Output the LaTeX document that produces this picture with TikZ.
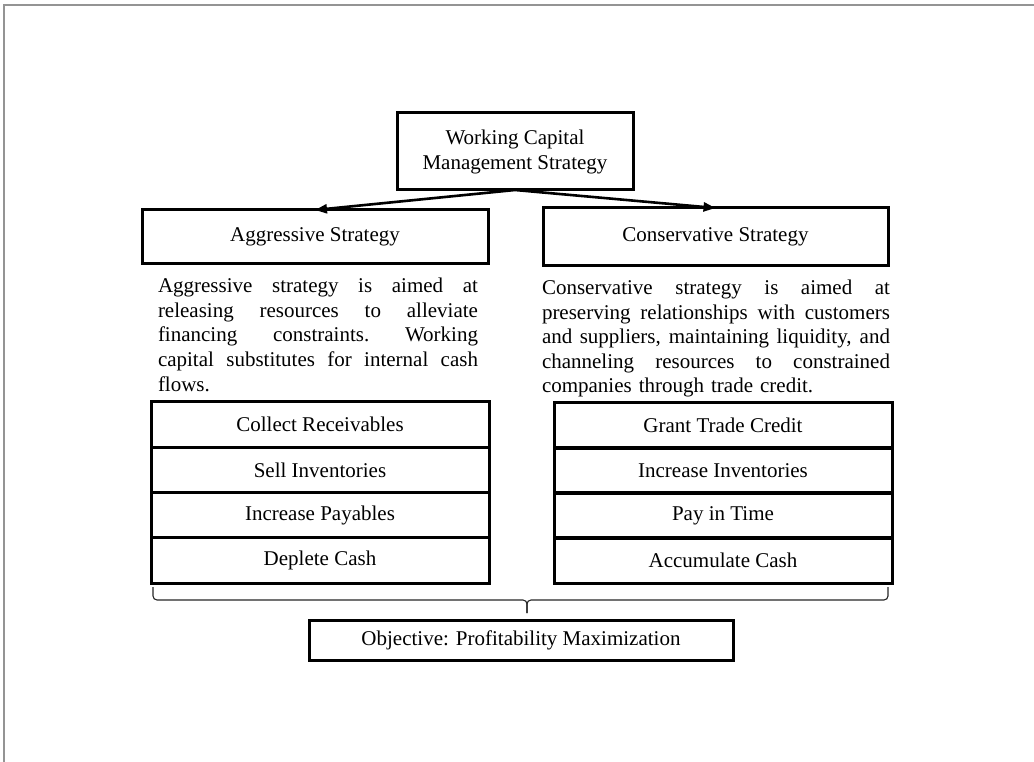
\documentclass[tikz,border=0pt]{standalone}
\usepackage{fontspec}
\setmainfont{Liberation Serif}
\usetikzlibrary{arrows.meta}
\newcommand{\jline}[2]{\leavevmode\hbox to #1{\spaceskip=0.25em plus 1fil\relax\xspaceskip=0.25em plus 1fil\relax #2}}
\begin{document}
\begin{tikzpicture}[x=1pt,y=-1pt,
  every node/.style={font=\fontsize{21}{24}\selectfont, inner sep=0pt, outer sep=0pt},
  box/.style={draw, line width=3pt, align=center},
  rowbox/.style={box, minimum width=338pt, minimum height=45.25pt},
  para/.style={align=left, anchor=north west},
  conn/.style={line width=2.6pt, -{Triangle[length=12pt,width=9pt]}},
  frame/.style={draw=black!42, line width=1.5pt}
]
\useasboundingbox (0,0) rectangle (1034,762);
\draw[frame] (4,762) -- (4,5) -- (1034,5);

\node[box, minimum width=236pt, minimum height=77pt] (top) at (515,151.5)
  {Working Capital\\[1pt]Management Strategy};
\node[box, minimum width=346pt, minimum height=54pt] (agg) at (315,237) {\raisebox{4pt}{Aggressive Strategy}};
\node[box, minimum width=345pt, minimum height=58pt] (cons) at (715.5,237) {\raisebox{4pt}{Conservative Strategy}};

\draw[conn] (top.south) -- (agg.north);
\draw[conn] (top.south) -- (cons.north);

\node[para, text width=320pt, font=\fontsize{21}{24.7}\selectfont] (aggtext) at (158,278) {%
\jline{320pt}{Aggressive strategy is aimed at}\\
\jline{320pt}{releasing resources to alleviate}\\
\jline{320pt}{financing constraints. Working}\\
\jline{320pt}{capital substitutes for internal cash}\\
flows.};

\node[para, text width=348pt, font=\fontsize{21}{24.5}\selectfont] (constext) at (542,280) {%
\jline{348pt}{Conservative strategy is aimed at}\\
\jline{348pt}{preserving relationships with customers}\\
\jline{348pt}{and suppliers, maintaining liquidity, and}\\
\jline{348pt}{channeling resources to constrained}\\
companies through trade credit.};

\node[rowbox] (l1) at (320,424.6) {Collect Receivables};
\node[rowbox] (l2) at (320,469.9) {Sell Inventories};
\node[rowbox] (l3) at (320,515.1) {Increase Payables};
\node[rowbox] (l4) at (320,560.4) {Deplete Cash};

\node[rowbox] (r1) at (723,425.6) {Grant Trade Credit};
\node[rowbox] (r2) at (723,470.6) {Increase Inventories};
\node[rowbox] (r3) at (723,515.6) {Pay in Time};
\node[rowbox] (r4) at (723,560.6) {Accumulate Cash};

\node[box, minimum width=424pt, minimum height=40pt] (obj) at (521,640)
  {Objective: Profitability Maximization};

\coordinate (bl) at (153,587);
\coordinate (br) at (888,587);
\coordinate (bt) at (527,613);
\draw[line width=1.1pt, black!85, rounded corners=4pt]
  (bl) -- (153,600) -- (527,600) -- (bt);
\draw[line width=1.1pt, black!85, rounded corners=4pt]
  (br) -- (888,600) -- (527,600) -- (bt);
\end{tikzpicture}
\end{document}
